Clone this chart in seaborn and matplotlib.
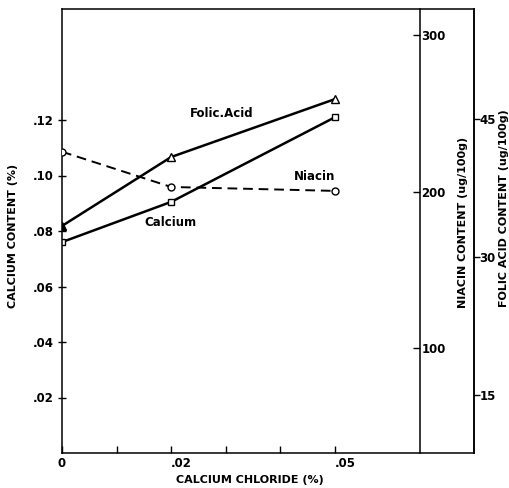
import matplotlib
matplotlib.use("Agg")
import matplotlib.pyplot as plt
import seaborn as sns
import pandas as pd

# ---- data ----
cacl2 = [0.0, 0.02, 0.05]
calcium = [0.076, 0.0905, 0.121]          # % (left axis)
niacin = [225.5, 203.0, 200.5]            # ug/100g (inner right axis)
folic = [33.4, 40.9, 47.2]                # ug/100g (outer right axis)

x_ticks = [0.0, 0.02, 0.05]
x_tick_labels = ["0", ".02", ".05"]
x_minor = [0.01, 0.03, 0.04]
ca_ticks = [0.02, 0.04, 0.06, 0.08, 0.10, 0.12]
ca_tick_labels = [".02", ".04", ".06", ".08", ".10", ".12"]
ni_ticks = [100, 200, 300]
fo_ticks = [15, 30, 45]

sns.set_style("ticks")
plt.rcParams["font.family"] = ["DejaVu Sans"]
plt.rcParams["font.weight"] = "bold"
for k in ["text.color", "axes.labelcolor", "xtick.color", "ytick.color",
          "axes.edgecolor"]:
    plt.rcParams[k] = "black"

fig = plt.figure(figsize=(5.09, 4.88), dpi=100)
ax = fig.add_axes([62/509, 1-453/488, (474-62)/509, (453-9)/488])
ax2 = ax.twinx()
ax3 = ax.twinx()

df = pd.DataFrame({"x": cacl2, "ca": calcium, "ni": niacin, "fo": folic})

lw = 1.8
sns.lineplot(data=df, x="x", y="ca", ax=ax, color="black", lw=lw,
             marker="s", markersize=5, markerfacecolor="white",
             markeredgecolor="black", markeredgewidth=1.0)
sns.lineplot(data=df, x="x", y="ni", ax=ax2, color="black", lw=1.4,
             linestyle=(0, (5, 3)),
             marker="o", markersize=5, markerfacecolor="white",
             markeredgecolor="black", markeredgewidth=1.0)
sns.lineplot(data=df, x="x", y="fo", ax=ax3, color="black", lw=lw,
             marker="^", markersize=5.5, markerfacecolor="white",
             markeredgecolor="black", markeredgewidth=1.0)
sns.scatterplot(data=df.iloc[:1], x="x", y="fo", ax=ax3, color="black",
                marker="^", s=30, edgecolor="black", zorder=5)

xmax = (474 - 62) / 5460.0
ax.set_xlim(0, xmax)
ax.set_ylim(0, 0.16)
ax2.set_ylim(33.2, 316.6)
ax3.set_ylim(8.7, 57.0)

tick_fs = 8.5
ax.set_xticks(x_ticks)
ax.set_xticklabels(x_tick_labels, fontsize=tick_fs, fontweight="bold")
for lbl in ax.get_xticklabels()[1:]:
    lbl.set_ha("left")
ax.set_xticks(x_minor, minor=True)
ax.tick_params(axis="x", which="both", direction="in", length=5, width=1, pad=3)
ax.set_yticks(ca_ticks)
ax.set_yticklabels(ca_tick_labels, fontsize=tick_fs, fontweight="bold")
ax.tick_params(axis="y", direction="inout", length=6, width=1, pad=3)

for s in ["top", "left", "bottom", "right"]:
    ax.spines[s].set_visible(True)
    ax.spines[s].set_linewidth(1.1)
    ax.spines[s].set_color("black")

# niacin axis: inner spine
ax2.spines["right"].set_position(("axes", (420 - 62) / (474 - 62)))
ax2.spines["right"].set_linewidth(1.1)
for s in ["top", "left", "bottom"]:
    ax2.spines[s].set_visible(False)
ax2.set_yticks(ni_ticks)
ax2.set_yticklabels([str(v) for v in ni_ticks], fontsize=tick_fs, fontweight="bold")
ax2.tick_params(axis="y", direction="in", length=5, width=1, pad=1)

ax3.spines["right"].set_linewidth(1.1)
for s in ["top", "left", "bottom"]:
    ax3.spines[s].set_visible(False)
ax3.set_yticks(fo_ticks)
ax3.set_yticklabels([str(v) for v in fo_ticks], fontsize=tick_fs, fontweight="bold")
ax3.tick_params(axis="y", direction="out", length=4, width=1, pad=0)

lab_fs = 8
ax.set_xlabel("CALCIUM CHLORIDE (%)", fontsize=lab_fs, fontweight="bold")
ax.xaxis.set_label_coords((250 - 62) / 412, -0.05)
ax.set_ylabel("CALCIUM CONTENT (%)", fontsize=lab_fs, fontweight="bold")
ax.yaxis.set_label_coords((18 - 62) / 412, (453 - 236) / 444)
ax2.set_ylabel("NIACIN CONTENT (ug/100g)", fontsize=lab_fs, fontweight="bold")
ax2.yaxis.set_label_coords((458 - 62) / 412, (453 - 222) / 444)
ax3.set_ylabel("FOLIC ACID CONTENT (ug/100g)", fontsize=lab_fs, fontweight="bold")
ax3.yaxis.set_label_coords((499 - 62) / 412, (453 - 208) / 444)

ann_fs = 8.5
ax.text(0.0293, 0.1225, "Folic.Acid", fontsize=ann_fs, fontweight="bold",
        ha="center", va="center")
ax.text(0.0198, 0.0829, "Calcium", fontsize=ann_fs, fontweight="bold",
        ha="center", va="center")
ax.text(0.0463, 0.0998, "Niacin", fontsize=ann_fs, fontweight="bold",
        ha="center", va="center")

fig.savefig("out.png", dpi=100, facecolor="white")
